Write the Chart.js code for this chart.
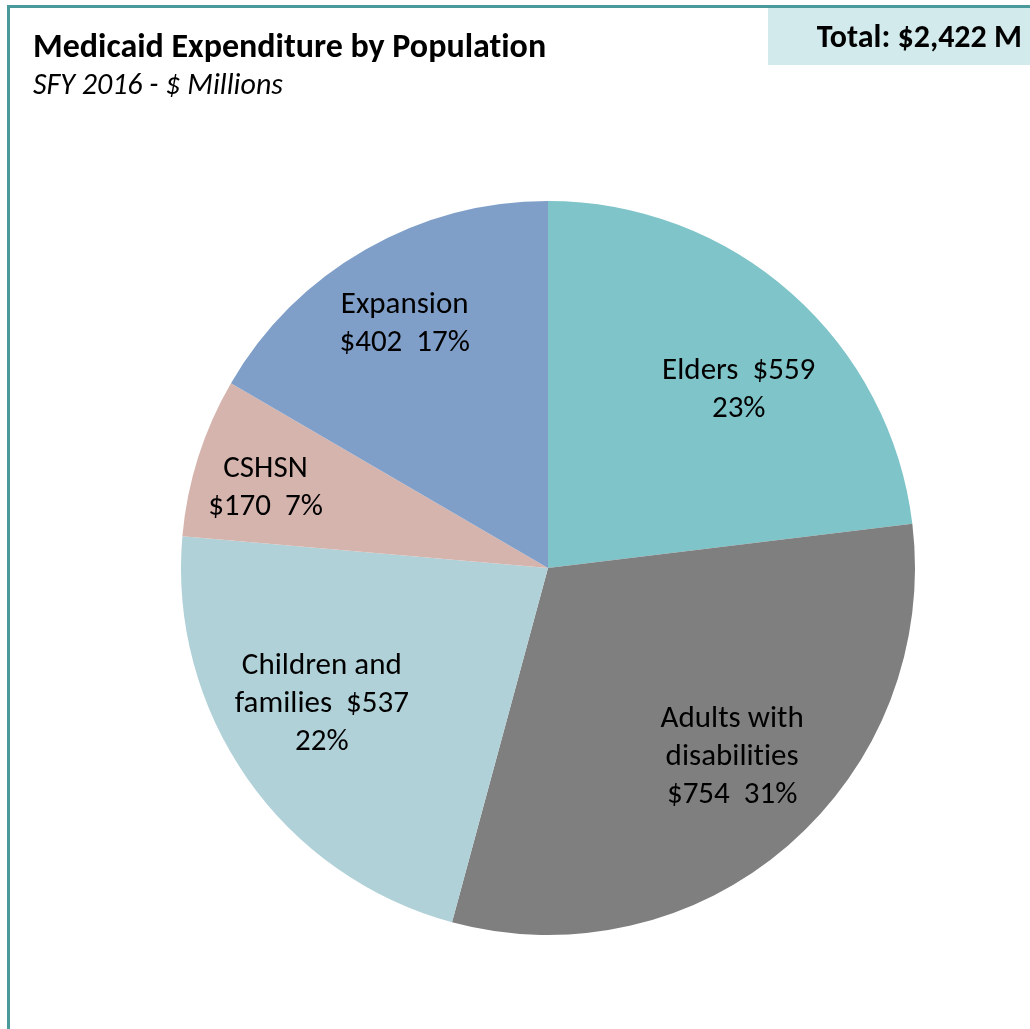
<!DOCTYPE html>
<html>
<head>
<meta charset="utf-8">
<script src="https://cdn.jsdelivr.net/npm/chart.js@4/dist/chart.umd.min.js"></script>
<style>
  html, body { margin: 0; padding: 0; background: #ffffff; overflow: hidden; }
  body { width: 1030px; height: 1029px; position: relative; font-family: 'Carlito', 'Lato', sans-serif; font-variant-ligatures: none; font-feature-settings: "liga" 0, "clig" 0; }
  #frame { position: absolute; left: 7px; top: 5px; width: 1200px; height: 1200px; border: 3px solid #4a9a9c; box-sizing: border-box; }
  #chartWrap { position: absolute; left: 0; top: 0; width: 1030px; height: 1029px; }
  #title { position: absolute; left: 33px; top: 26px; font-size: 34px; font-weight: bold; color: #000; line-height: 40px; white-space: nowrap; }
  #subtitle { position: absolute; left: 33px; top: 66px; font-size: 30px; font-style: italic; color: #000; line-height: 36px; white-space: nowrap; }
  #total { position: absolute; left: 768px; top: 8px; width: 262px; height: 57px; background: #d3eaed; }
  #totalText { position: absolute; right: 8px; top: 18px; font-size: 32px; font-weight: bold; color: #000; line-height: 38px; white-space: nowrap; }
</style>
</head>
<body>
<div id="chartWrap"><canvas id="c" width="1030" height="1029"></canvas></div>
<div id="frame"></div>
<div id="total"></div>
<div id="title">Medicaid Expenditure by Population</div>
<div id="subtitle">SFY 2016 - $ Millions</div>
<div id="totalText"></div>
<script>
// ---- Data ----
const categories = ["Elders", "Adults with disabilities", "Children and families", "CSHSN", "Expansion"];
const values = [559, 754, 537, 170, 402];
const colors = ["#7fc4c9", "#7f7f7f", "#b0d1d8", "#d6b4ae", "#7f9fc9"];
// how each label is broken into lines (text pieces)
const labelNameLines = [["Elders"], ["Adults with", "disabilities"], ["Children and", "families"], ["CSHSN"], ["Expansion"]];
// whether the value shares the last name line, and whether percent shares the value line
const valueOnNameLine = [true, false, true, false, false];
const pctOnValueLine = [false, true, false, true, true];

const total = values.reduce((a, b) => a + b, 0);
document.getElementById('totalText').textContent = 'Total: $' + total.toLocaleString('en-US') + ' M';

function buildLines(i) {
  const lines = labelNameLines[i].slice();
  const val = '$' + values[i];
  const pct = Math.round(values[i] / total * 100) + '%';
  if (valueOnNameLine[i]) {
    lines[lines.length - 1] = lines[lines.length - 1] + '  ' + val;
    if (pctOnValueLine[i]) lines[lines.length - 1] += '  ' + pct; else lines.push(pct);
  } else {
    lines.push(pctOnValueLine[i] ? val + '  ' + pct : val);
    if (!pctOnValueLine[i]) lines.push(pct);
  }
  return lines;
}

// break typographic ligatures (ti, fi, fl, ff) in canvas text
function noLig(s) { return s.replace(/([ft])(?=[iflt])/g, '$1\u200C'); }

// label placement tuning (radius fraction and angle nudge in degrees)
const labelRadiusFrac = [0.71, 0.72, 0.72, 0.80, 0.77];
const labelAngleNudge = [5.5, -3.3, 3.8, -1.8, -0.6];

const labelPlugin = {
  id: 'sliceLabels',
  afterDatasetsDraw(chart) {
    const ctx = chart.ctx;
    const meta = chart.getDatasetMeta(0);
    ctx.save();
    ctx.fillStyle = '#000000';
    ctx.font = '31px Carlito, Lato, sans-serif';
    ctx.textAlign = 'center';
    ctx.textBaseline = 'middle';
    const lh = 38;
    meta.data.forEach((arc, i) => {
      const p = arc.getProps(['x', 'y', 'startAngle', 'endAngle', 'outerRadius'], true);
      const mid = (p.startAngle + p.endAngle) / 2 + labelAngleNudge[i] * Math.PI / 180;
      const r = p.outerRadius * labelRadiusFrac[i];
      const cx = p.x + Math.cos(mid) * r;
      const cy = p.y + Math.sin(mid) * r;
      const lines = buildLines(i);
      const y0 = cy - (lines.length - 1) * lh / 2;
      lines.forEach((t, k) => ctx.fillText(noLig(t), cx, y0 + k * lh));
    });
    ctx.restore();
  }
};

new Chart(document.getElementById('c'), {
  type: 'pie',
  data: {
    labels: categories,
    datasets: [{ data: values, backgroundColor: colors, borderWidth: 0 }]
  },
  options: {
    responsive: false,
    animation: false,
    layout: { padding: { left: 181, right: 115, top: 201, bottom: 94 } },
    plugins: { legend: { display: false }, tooltip: { enabled: false }, title: { display: false } }
  },
  plugins: [labelPlugin]
});
</script>
</body>
</html>
